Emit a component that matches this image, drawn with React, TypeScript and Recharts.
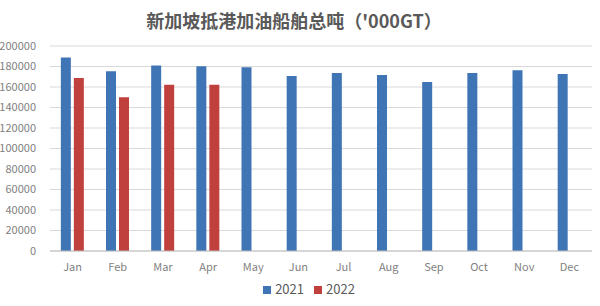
import React from "react";
import { BarChart, Bar, XAxis, YAxis, CartesianGrid, Legend } from "recharts";

const months = ["Jan", "Feb", "Mar", "Apr", "May", "Jun", "Jul", "Aug", "Sep", "Oct", "Nov", "Dec"];
const values2021 = [188700, 175300, 180900, 180200, 179200, 170700, 173700, 171700, 164900, 173700, 176300, 172700];
const values2022: (number | null)[] = [168800, 150000, 162300, 162300, null, null, null, null, null, null, null, null];
const yTicks = [0, 20000, 40000, 60000, 80000, 100000, 120000, 140000, 160000, 180000, 200000];
const title = "新加坡抵港加油船舶总吨（'000GT）";

const data = months.map((m, i) => ({ month: m, y2021: values2021[i], y2022: values2022[i] }));

export default function App() {
  return (
    <div style={{ position: "absolute", left: 0, top: 0, width: 600, height: 306, background: "#fff" }}>
      <div
        style={{
          position: "absolute",
          top: 7,
          left: 0,
          width: 588,
          textAlign: "center",
          fontFamily: "'Noto Sans CJK SC', sans-serif",
          fontWeight: 700,
          fontSize: 18,
          color: "#595959",
        }}
      >
        {title}
      </div>
      <BarChart
        width={600}
        height={306}
        data={data}
        margin={{ top: 46, right: 8, bottom: 2, left: 0 }}
        barCategoryGap="24%"
        barGap={3}
      >
        <CartesianGrid vertical={false} stroke="#d9d9d9" />
        <XAxis
          dataKey="month"
          tickLine={false}
          axisLine={{ stroke: "#bfbfbf" }}
          tick={{ fill: "#7f7f7f", fontSize: 11, fontFamily: "'Noto Sans CJK SC', sans-serif" }}
          height={28}
          tickMargin={6}
        />
        <YAxis
          domain={[0, 200000]}
          ticks={yTicks}
          interval={0}
          tickLine={false}
          axisLine={false}
          width={50}
          tick={{ fill: "#7f7f7f", fontSize: 11, fontFamily: "'Noto Sans CJK SC', sans-serif" }}
          tickMargin={8}
        />
        <Legend
          verticalAlign="bottom"
          height={25}
          iconType="square"
          iconSize={8}
          wrapperStyle={{ fontFamily: "'Noto Sans CJK SC', sans-serif", fontSize: 13, color: "#595959", paddingLeft: 18 }}
          formatter={(v: string) => <span style={{ color: "#595959" }}>{v}</span>}
        />
        <Bar dataKey="y2021" name="2021" fill="#3f74b5" isAnimationActive={false} />
        <Bar dataKey="y2022" name="2022" fill="#c0403d" isAnimationActive={false} />
      </BarChart>
    </div>
  );
}
